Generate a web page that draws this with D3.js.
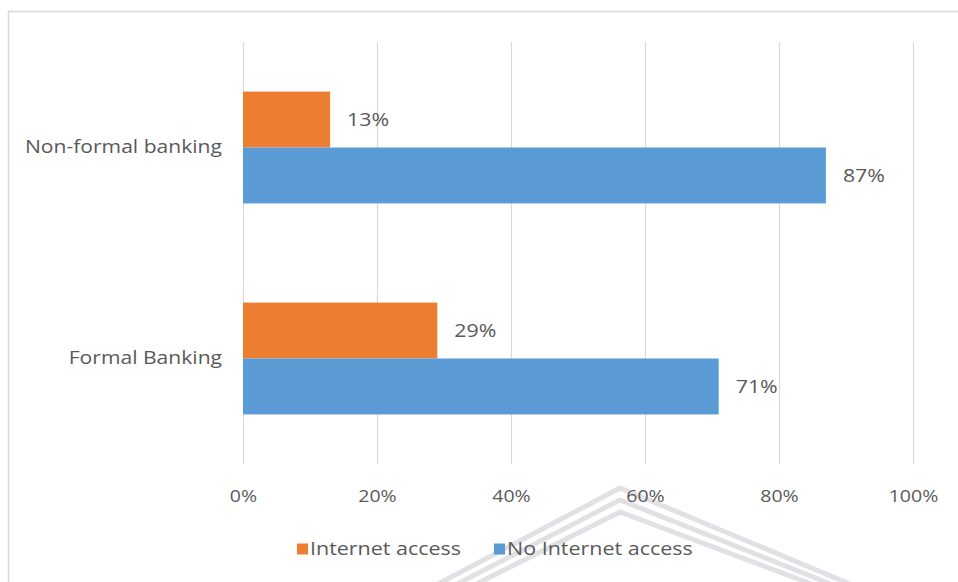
<!DOCTYPE html>
<html>
<head>
<meta charset="utf-8">
<script src="https://cdn.jsdelivr.net/npm/d3@7"></script>
<style>
  html, body { margin: 0; padding: 0; background: #fff; }
  svg { display: block; }
  text { font-family: "Open Sans", "DejaVu Sans", sans-serif; fill: #595959; }
</style>
</head>
<body>
<svg id="chart" width="958" height="582"></svg>
<script>
// Categories from top to bottom, and the two series (share of respondents)
const categories = ["Non-formal banking", "Formal Banking"];
const seriesNames = ["Internet access", "No Internet access"];
const internetAccess = [0.13, 0.29];
const noInternetAccess = [0.87, 0.71];
const tickValues = [0, 0.2, 0.4, 0.6, 0.8, 1.0];
const colors = ["#ed7d31", "#5b9bd5"];

// Text is drawn slightly wide, like the original Office chart export
const SX = 1.22;
function widen(sel) {
  sel.each(function () {
    const t = d3.select(this);
    const x0 = +t.attr("x") || 0;
    t.attr("x", x0 / SX).attr("transform", `scale(${SX},1)`);
  });
}

const svg = d3.select("#chart");

// Faint crest watermark low in the page
const crest = svg.append("g").attr("fill", "none")
  .attr("stroke", "#bdbdc6").attr("stroke-opacity", 0.45).attr("stroke-width", 5);
[0, 12, 24].forEach(o => {
  crest.append("path")
    .attr("d", `M${438 + o * 1.6},${584} L${620},${488 + o} L${850 - o * 1.6},${584}`);
});

// Outer chart frame
svg.append("rect")
  .attr("x", 8.5).attr("y", 11.5)
  .attr("width", 1000).attr("height", 700)
  .attr("fill", "none").attr("stroke", "#d9d9d9").attr("stroke-width", 1.5);

const plot = { left: 243, right: 913, top: 42, bottom: 464 };

const x = d3.scaleLinear().domain([0, 1]).range([plot.left, plot.right]);
const y = d3.scaleBand().domain(categories)
  .range([plot.top, plot.bottom])
  .paddingInner(0.47).paddingOuter(0.235);
const ySub = d3.scaleBand().domain(seriesNames).range([0, y.bandwidth()]);

// Vertical gridlines
svg.append("g").selectAll("line").data(tickValues).join("line")
  .attr("x1", d => Math.round(x(d)) + 0.5).attr("x2", d => Math.round(x(d)) + 0.5)
  .attr("y1", plot.top).attr("y2", plot.bottom)
  .attr("stroke", "#d9d9d9").attr("stroke-width", 1.2);

// X axis tick labels
const xAxis = d3.axisBottom(x).tickValues(tickValues)
  .tickFormat(d3.format(".0%")).tickSize(0).tickPadding(0);
const gx = svg.append("g").attr("transform", `translate(0,${plot.bottom + 27})`).call(xAxis);
gx.select(".domain").remove();
gx.selectAll("text").attr("font-size", 16).attr("fill", "#595959")
  .style("font-family", "'Open Sans', sans-serif").call(widen);

// Category labels
const yAxis = d3.axisLeft(y).tickSize(0).tickPadding(21);
const gy = svg.append("g").attr("transform", `translate(${plot.left},0)`).call(yAxis);
gy.select(".domain").remove();
gy.selectAll("text").attr("font-size", 17.3).attr("fill", "#595959")
  .style("font-family", "'Open Sans', sans-serif").call(widen);

// Bars
const rows = categories.map((c, i) => ({
  cat: c,
  vals: [
    { s: seriesNames[0], v: internetAccess[i], color: colors[0] },
    { s: seriesNames[1], v: noInternetAccess[i], color: colors[1] }
  ]
}));

const groups = svg.append("g").selectAll("g").data(rows).join("g")
  .attr("transform", d => `translate(0,${y(d.cat)})`);

groups.selectAll("rect").data(d => d.vals).join("rect")
  .attr("x", x(0))
  .attr("y", d => ySub(d.s))
  .attr("width", d => x(d.v) - x(0))
  .attr("height", ySub.bandwidth())
  .attr("fill", d => d.color);

// Value labels
groups.selectAll("text.val").data(d => d.vals).join("text")
  .attr("class", "val")
  .attr("x", d => x(d.v) + 17)
  .attr("y", d => ySub(d.s) + ySub.bandwidth() / 2)
  .attr("dy", "0.35em")
  .attr("font-size", 17.5)
  .text(d => d3.format(".0%")(d.v))
  .call(widen);

// Legend
const legendY = 549;
const legendItems = [
  { name: seriesNames[0], color: colors[0], x: 297 },
  { name: seriesNames[1], color: colors[1], x: 494 }
];
const lg = svg.append("g").selectAll("g").data(legendItems).join("g")
  .attr("transform", d => `translate(${d.x},${legendY})`);
lg.append("rect").attr("x", 0).attr("y", -5.5).attr("width", 11).attr("height", 11)
  .attr("fill", d => d.color);
lg.append("text").attr("x", 13).attr("y", 0).attr("dy", "0.35em")
  .attr("font-size", 17.6).text(d => d.name).call(widen);
</script>
</body>
</html>
